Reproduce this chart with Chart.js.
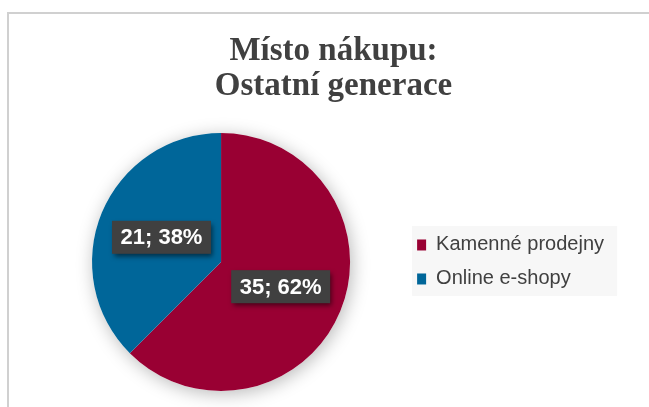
<!DOCTYPE html>
<html>
<head>
<meta charset="utf-8">
<script src="https://cdn.jsdelivr.net/npm/chart.js@4"></script>
<style>
  html, body { margin: 0; padding: 0; background: #fff; }
  .frame { position: absolute; left: 7px; top: 12px; right: 0; bottom: 0; border-top: 2px solid #d0d0d0; border-left: 2px solid #d0d0d0; }
  .wrap { position: absolute; left: 0; top: 0; width: 649px; height: 407px; }
</style>
</head>
<body>
<div class="frame"></div>
<div class="wrap"><canvas id="chart" width="649" height="407"></canvas></div>
<script>
// ── Data ──
const titleLines = ['Místo nákupu:', 'Ostatní generace'];
const categories = ['Kamenné prodejny', 'Online e-shopy'];
const counts = [35, 21];
const percents = [62, 38];
const sliceColors = ['#990033', '#006699'];

// title sits a bit right of the plot centre in the original
const titleShift = {
  id: 'titleShift',
  afterLayout(chart) {
    if (chart.titleBlock) chart.titleBlock.left += 14;
  }
};

// soft shadow under the whole pie
const pieShadow = {
  id: 'pieShadow',
  beforeDatasetsDraw(chart) {
    const arc = chart.getDatasetMeta(0).data[0];
    if (!arc) return;
    const ctx = chart.ctx;
    ctx.save();
    ctx.shadowColor = 'rgba(0,0,0,0.28)';
    ctx.shadowBlur = 18;
    ctx.shadowOffsetX = 2;
    ctx.shadowOffsetY = 3;
    ctx.fillStyle = '#ffffff';
    ctx.beginPath();
    ctx.arc(arc.x, arc.y, arc.outerRadius, 0, Math.PI * 2);
    ctx.fill();
    ctx.restore();
  }
};

// light grey panel behind the legend
const legendPanel = {
  id: 'legendPanel',
  beforeDraw(chart) {
    const hb = chart.legend && chart.legend.legendHitBoxes;
    if (!hb || !hb.length) return;
    const last = hb[hb.length - 1];
    const ctx = chart.ctx;
    const top = hb[0].top - 9;
    ctx.save();
    ctx.fillStyle = '#f7f7f7';
    ctx.fillRect(hb[0].left - 5, top, 205, last.top + last.height + 7 - top);
    ctx.restore();
  }
};

// "count; percent" boxes on the slices
const sliceLabels = {
  id: 'sliceLabels',
  afterDatasetsDraw(chart) {
    const ctx = chart.ctx;
    chart.getDatasetMeta(0).data.forEach(function(arc, i) {
      const pos = arc.tooltipPosition();
      const text = counts[i] + '; ' + percents[i] + '%';
      ctx.save();
      ctx.font = 'bold 22px "Liberation Sans", Arial, sans-serif';
      const w = ctx.measureText(text).width + 17;
      const h = 33;
      ctx.shadowColor = 'rgba(0,0,0,0.55)';
      ctx.shadowBlur = 5;
      ctx.shadowOffsetX = 2;
      ctx.shadowOffsetY = 3;
      ctx.fillStyle = '#404040';
      ctx.fillRect(pos.x - w / 2, pos.y - h / 2, w, h);
      ctx.shadowColor = 'transparent';
      ctx.fillStyle = '#ffffff';
      ctx.textAlign = 'center';
      ctx.textBaseline = 'middle';
      ctx.fillText(text, pos.x, pos.y + 1);
      ctx.restore();
    });
  }
};

new Chart(document.getElementById('chart'), {
  type: 'pie',
  data: {
    labels: categories,
    datasets: [{ data: counts, backgroundColor: sliceColors, borderWidth: 0, hoverOffset: 0 }]
  },
  options: {
    responsive: false,
    animation: false,
    layout: { padding: { left: 39, right: 35, top: 0, bottom: 16 } },
    plugins: {
      title: {
        display: true,
        text: titleLines,
        color: '#404040',
        font: { family: '"Liberation Serif", "Times New Roman", serif', size: 33, weight: 'bold', lineHeight: 1.06 },
        padding: { top: 34, bottom: 29 }
      },
      legend: {
        position: 'right',
        fullSize: false,
        labels: {
          color: '#404040',
          boxWidth: 9,
          boxHeight: 11,
          padding: 14,
          font: { family: '"Liberation Sans", Arial, sans-serif', size: 20 }
        }
      },
      tooltip: { enabled: false }
    }
  },
  plugins: [titleShift, pieShadow, legendPanel, sliceLabels]
});
</script>
</body>
</html>
